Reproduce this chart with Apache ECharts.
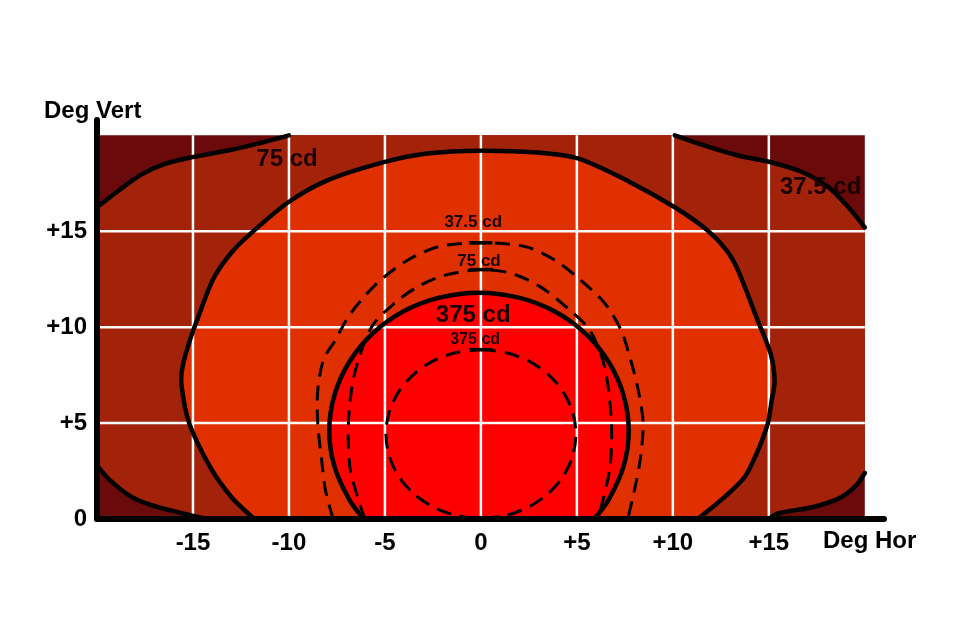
<!DOCTYPE html>
<html>
<head>
<meta charset="utf-8">
<title>Isocandela diagram</title>
<script src="https://cdn.jsdelivr.net/npm/echarts@6/dist/echarts.min.js"></script>
<style>
  html, body { margin: 0; background: #fff; }
  #chart { width: 960px; height: 638px; }
</style>
</head>
<body>
<div id="chart"></div>
<script>
// axis ticks (degrees)
const xTicks = [-15, -10, -5, 0, 5, 10, 15];
const yTicks = [5, 10, 15];
const plotBox = [[-20, 0], [20, 0], [20, 20], [-20, 20]];

// solid 37.5 cd boundary (four corner pieces), [deg hor, deg vert]
const c37TopLeft = [[-20, 16.25], [-18.9, 17.1], [-17.7, 17.95], [-16.5, 18.5], [-15.1, 18.85], [-13, 19.25], [-11.3, 19.65], [-10, 20]];
const c37TopRight = [[10.1, 20], [11.7, 19.45], [13.4, 18.95], [15.1, 18.6], [16.7, 18.1], [18.1, 17.3], [19.1, 16.3], [20, 15.2]];
const c37BottomRight = [[20, 2.4], [19.5, 1.7], [18.6, 1.05], [17.2, 0.6], [15.5, 0.3], [15, 0]];
const c37BottomLeft = [[-14.2, 0], [-14.7, 0.1], [-15.8, 0.36], [-17.2, 0.73], [-18.2, 1.15], [-19.3, 2.0], [-20, 2.8]];

// solid 75 cd
const c75 = [[-11.8, 0], [-13, 1.15], [-14.1, 2.7], [-15.2, 5.0], [-15.6, 7.0], [-15.55, 7.9], [-15.2, 9.2], [-14.7, 10.6],
  [-13.9, 12.6], [-12.9, 14.0], [-11.8, 15.05], [-10.05, 16.5], [-8, 17.65], [-5.05, 18.6], [-2.8, 19.05], [0, 19.2], [3, 19.1],
  [5.05, 18.8], [7.7, 17.6], [10.1, 16.25], [11.8, 15.05], [12.8, 14.0], [13.4, 12.95], [14.4, 10.4], [15.1, 8.6], [15.3, 7.2],
  [15.15, 6.2], [14.95, 5.0], [14.4, 3.5], [13.75, 2.2], [12.7, 1.15], [11.3, 0]];

// solid 375 cd
const c375 = [[-6.1, 0], [-6.85, 1.0], [-7.63, 2.74], [-7.9, 4.6], [-7.63, 6.46], [-6.85, 8.2], [-5.62, 9.69], [-4.0, 10.84],
  [-2.12, 11.55], [-0.1, 11.8], [1.92, 11.55], [3.8, 10.84], [5.42, 9.69], [6.65, 8.2], [7.43, 6.46], [7.7, 4.6],
  [7.43, 2.74], [6.65, 1.0], [5.9, 0]];

// dashed contours
const d37 = [[-7.7, 0], [-8.1, 1.5], [-8.3, 3.1], [-8.5, 5], [-8.5, 6.7], [-8.2, 8.3], [-7.6, 9.3], [-6.8, 10.7], [-5.4, 12.3],
  [-3.8, 13.5], [-2.2, 14.2], [0, 14.4], [2.3, 14.2], [3.85, 13.5], [5.2, 12.45], [6.45, 11.25], [7.3, 9.85], [7.8, 8.3],
  [8.2, 6.7], [8.45, 5], [8.3, 3.1], [8.0, 1.5], [7.65, 0]];
const d75 = [[-6.05, 0], [-6.8, 2.55], [-6.9, 5], [-6.6, 7.5], [-5.7, 10], [-4.5, 11.25], [-3.3, 12.1], [-1.9, 12.7], [0, 13.0],
  [1.6, 12.8], [3.1, 12.1], [4.5, 11.0], [5.7, 9.8], [6.45, 7.9], [6.8, 5], [6.7, 2.55], [6.1, 0]];
const d375 = [[0, 8.83], [1.28, 8.68], [2.48, 8.24], [3.5, 7.54], [4.29, 6.63], [4.78, 5.57], [4.95, 4.43], [4.78, 3.29],
  [4.29, 2.23], [3.5, 1.32], [2.48, 0.62], [1.28, 0.18], [0, 0.05], [-1.28, 0.18], [-2.48, 0.62], [-3.5, 1.32],
  [-4.29, 2.23], [-4.78, 3.29], [-4.95, 4.43], [-4.78, 5.57], [-4.29, 6.63], [-3.5, 7.54], [-2.48, 8.24], [-1.28, 8.68], [0, 8.83]];

// labels
const labelText = ['75 cd', '37.5 cd', '375 cd', '37.5 cd', '75 cd', '375 cd'];
const labelAt = [[-10.1, 18.75], [17.7, 17.3], [-0.4, 10.6], [-0.4, 15.45], [-0.1, 13.45], [-0.3, 9.35]];
const labelSize = [24, 24, 24, 17, 17, 16];

const FONT = '"Liberation Sans", Arial, sans-serif';

const fills = [
  { pts: plotBox, color: '#6b0a0a' },
  { pts: c37TopLeft.concat(c37TopRight, c37BottomRight, c37BottomLeft), color: '#a3230a' },
  { pts: c75, color: '#e03000' },
  { pts: c375, color: '#ff0000' }
];
const gridSegs = xTicks.map(x => [[x, 0], [x, 20]]).concat(yTicks.map(y => [[-20, y], [20, y]]));
const solidLines = [c37TopLeft, c37TopRight, c37BottomRight, c37BottomLeft, c75, c375];
const dashedLines = [d37, d75, d375];
const topMarks = dashedLines.map(d => d.reduce((a, b) => (b[1] > a[1] ? b : a)));

function fmtTick(v) {
  if (v === 0) return '0';
  if (Math.abs(v) >= 20 || v % 5 !== 0) return '';
  return v > 0 ? '+' + v : String(v);
}

const chart = echarts.init(document.getElementById('chart'));
chart.setOption({
  animation: false,
  backgroundColor: '#fff',
  grid: { left: 97, right: 76, top: 120, bottom: 119, containLabel: false },
  xAxis: {
    type: 'value', min: -20, max: 21, interval: 5, z: 10,
    axisLine: { onZero: false, lineStyle: { color: '#000', width: 6 } },
    axisTick: { show: false },
    splitLine: { show: false },
    axisLabel: { margin: 12, color: '#000', fontSize: 24, fontWeight: 'bold', fontFamily: FONT, formatter: fmtTick }
  },
  yAxis: {
    type: 'value', min: 0, max: 20.8, interval: 5, z: 10,
    axisLine: { onZero: false, lineStyle: { color: '#000', width: 6 } },
    axisTick: { show: false },
    splitLine: { show: false },
    axisLabel: { margin: 10, color: '#000', fontSize: 24, fontWeight: 'bold', fontFamily: FONT, formatter: fmtTick }
  },
  graphic: [
    { type: 'text', left: 44, top: 99, style: { text: 'Deg Vert', fontSize: 24, fontWeight: 'bold', fontFamily: FONT, fill: '#000' } },
    { type: 'text', left: 823, top: 529, style: { text: 'Deg Hor', fontSize: 24, fontWeight: 'bold', fontFamily: FONT, fill: '#000' } }
  ],
  series: [
    {
      type: 'custom', z: 1, clip: true, silent: true,
      data: fills.map(() => [0, 0]),
      renderItem: (params, api) => {
        const f = fills[params.dataIndex];
        return { type: 'polygon', shape: { points: f.pts.map(p => api.coord(p)) }, style: { fill: f.color } };
      }
    },
    {
      type: 'custom', z: 2, clip: true, silent: true,
      data: gridSegs.map(() => [0, 0]),
      renderItem: (params, api) => {
        const s = gridSegs[params.dataIndex];
        const a = api.coord(s[0]), b = api.coord(s[1]);
        return { type: 'line', shape: { x1: a[0], y1: a[1], x2: b[0], y2: b[1] }, style: { stroke: '#fff', lineWidth: 2.5 } };
      }
    },
    {
      type: 'custom', z: 3, clip: true, silent: true,
      data: dashedLines.map(() => [0, 0]),
      renderItem: (params, api) => ({
        type: 'polyline',
        shape: { points: dashedLines[params.dataIndex].map(p => api.coord(p)), smooth: 0.3 },
        style: { stroke: '#000', fill: null, lineWidth: 3, lineDash: [15, 9] }
      })
    },
    {
      type: 'custom', z: 3, clip: true, silent: true,
      data: topMarks.map(() => [0, 0]),
      renderItem: (params, api) => {
        const t = topMarks[params.dataIndex];
        const a = api.coord([t[0] - 0.6, t[1]]), b = api.coord([t[0] + 0.6, t[1]]);
        return { type: 'line', shape: { x1: a[0], y1: a[1], x2: b[0], y2: b[1] }, style: { stroke: '#000', lineWidth: 3.5 } };
      }
    },
    {
      type: 'custom', z: 4, clip: true, silent: true,
      data: solidLines.map(() => [0, 0]),
      renderItem: (params, api) => ({
        type: 'polyline',
        shape: { points: solidLines[params.dataIndex].map(p => api.coord(p)), smooth: 0.3 },
        style: { stroke: '#000', fill: null, lineWidth: 4.5, lineCap: 'round', lineJoin: 'round' }
      })
    },
    {
      type: 'custom', z: 5, silent: true,
      data: labelText.map(() => [0, 0]),
      renderItem: (params, api) => {
        const i = params.dataIndex;
        const p = api.coord(labelAt[i]);
        return {
          type: 'text', x: p[0], y: p[1],
          style: {
            text: labelText[i], fontSize: labelSize[i], fontWeight: 'bold', fontFamily: FONT,
            fill: '#1a0000', align: 'center', verticalAlign: 'middle'
          }
        };
      }
    }
  ]
});
</script>
</body>
</html>
